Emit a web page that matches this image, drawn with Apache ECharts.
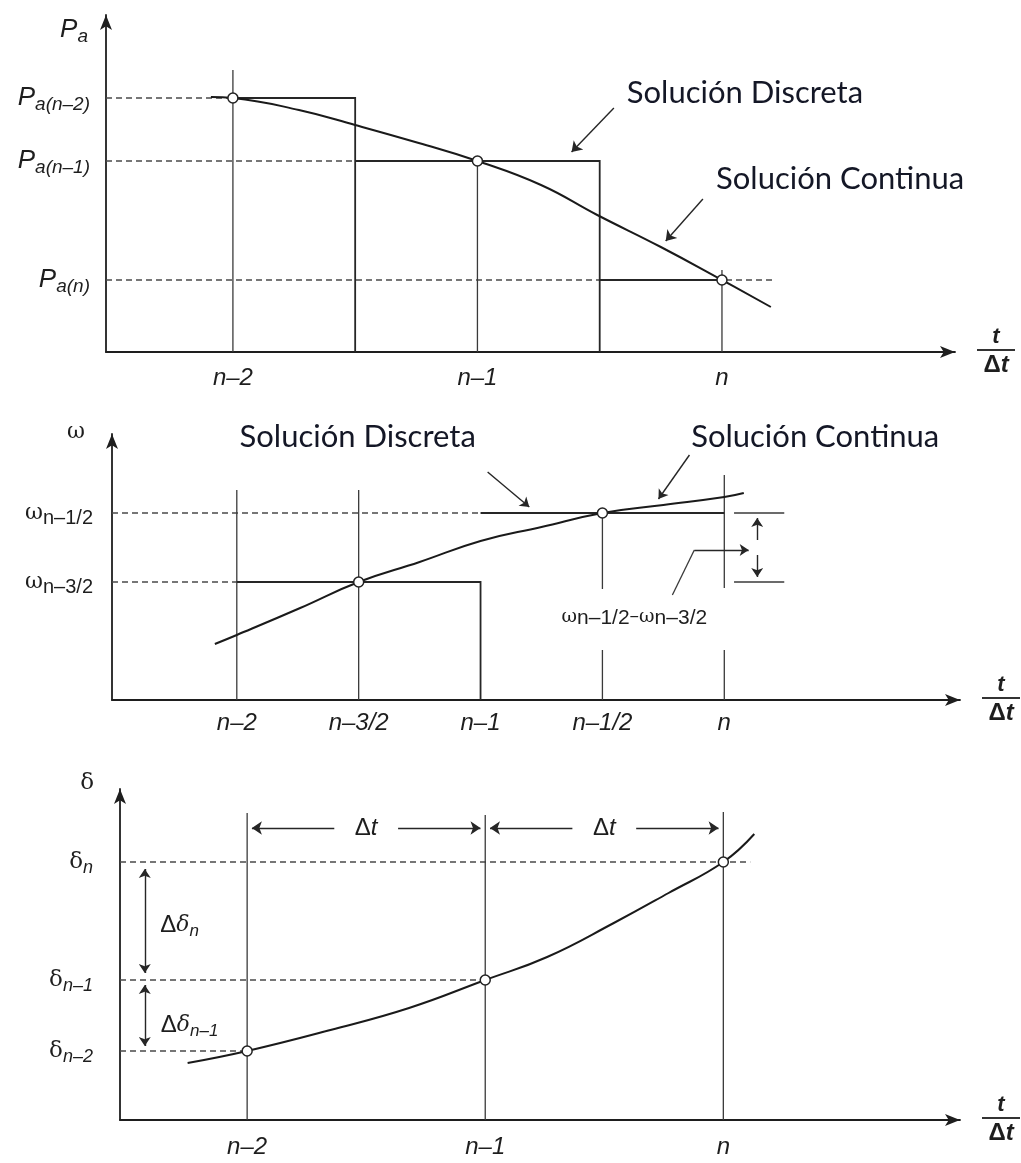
<!DOCTYPE html>
<html>
<head>
<meta charset="utf-8">
<script src="https://cdn.jsdelivr.net/npm/echarts@6/dist/echarts.min.js"></script>
<style>
html, body { margin: 0; padding: 0; background: #fff; }
#main { width: 1021px; height: 1163px; }
</style>
</head>
<body>
<div id="main"></div>
<script>
// time axis in steps, n = 0
// panel 1: accelerating power Pa
const paTicks = [-2, -1, 0];
const paTickLabels = ['n–2', 'n–1', 'n'];
const paLevels = [2.54, 1.91, 0.72];            // Pa(n-2), Pa(n-1), Pa(n)
const paLevelSubs = ['a(n–2)', 'a(n–1)', 'a(n)'];
const paCurveX = [-2.09, -2, -1.73, -1.5, -1.24, -1, -0.74, -0.51, -0.25, 0, 0.2];
const paCurveY = [2.55, 2.54, 2.42, 2.27, 2.09, 1.91, 1.67, 1.37, 1.05, 0.72, 0.45];

// panel 2: speed w
const wTicks = [-2, -1.5, -1, -0.5, 0];
const wTickLabels = ['n–2', 'n–3/2', 'n–1', 'n–1/2', 'n'];
const wLevels = [1.18, 1.87];                   // w(n-3/2), w(n-1/2)
const wLevelSubs = ['n–3/2', 'n–1/2'];
const wCurveX = [-2.09, -2, -1.74, -1.5, -1.25, -1, -0.75, -0.5, -0.25, 0, 0.08];
const wCurveY = [0.56, 0.65, 0.92, 1.18, 1.38, 1.59, 1.73, 1.87, 1.95, 2.03, 2.07];

// panel 3: rotor angle delta
const dTicks = [-2, -1, 0];
const dTickLabels = ['n–2', 'n–1', 'n'];
const dLevels = [0.69, 1.40, 2.58];             // d(n-2), d(n-1), d(n)
const dLevelSubs = ['n–2', 'n–1', 'n'];
const dCurveX = [-2.25, -2, -1.65, -1.32, -1, -0.74, -0.46, -0.23, 0, 0.13];
const dCurveY = [0.57, 0.69, 0.90, 1.12, 1.40, 1.63, 1.97, 2.27, 2.58, 2.86];

const sans = 'Liberation Sans';
const serif = 'DejaVu Serif';
const capFont = 'Lato';
const ink = '#1e1e1e';

const layout = [
  { grid: { left: 106, top: 15, width: 849, height: 337 }, x: [-2.519, 0.953], yMax: 3.37 },
  { grid: { left: 112, top: 434, width: 849, height: 266 }, x: [-2.512, 0.967], yMax: 2.66 },
  { grid: { left: 120, top: 789, width: 845, height: 331 }, x: [-2.534, 0.994], yMax: 3.31 }
];

const dashed = { color: '#4a4a4a', width: 1.3, type: [6, 4], opacity: 1 };
const thin = { color: '#3a3a3a', width: 1.3, opacity: 1 };
const step = { color: '#262626', width: 1.8, opacity: 1 };

function nearestIndex (arr, v) {
  let best = 0;
  arr.forEach((a, i) => { if (Math.abs(a - v) < Math.abs(arr[best] - v)) best = i; });
  return best;
}
function mid (a, b) { return (a + b) / 2; }

const fracRich = {
  t: { fontFamily: sans, fontStyle: 'italic', fontWeight: 'bold', fontSize: 22, lineHeight: 22, align: 'center', color: ink },
  bar: { width: 38, height: 2, lineHeight: 5, backgroundColor: '#333', align: 'center' },
  d: { fontFamily: sans, fontWeight: 'bold', fontSize: 24, lineHeight: 26, align: 'center', color: ink },
  ti: { fontFamily: sans, fontStyle: 'italic', fontWeight: 'bold', fontSize: 24, lineHeight: 26, align: 'center', color: ink }
};

function xAxisFor (i, ticks, labels, margin) {
  return {
    type: 'value', gridIndex: i, min: layout[i].x[0], max: layout[i].x[1],
    axisLine: { show: true, onZero: false, symbol: ['none', 'arrow'], symbolSize: [9, 15], lineStyle: { color: ink, width: 1.8 } },
    axisTick: { show: false },
    splitLine: { show: false },
    axisLabel: {
      customValues: ticks, margin: margin,
      formatter: v => labels[nearestIndex(ticks, v)],
      fontFamily: sans, fontStyle: 'italic', fontSize: 24, color: ink
    },
    name: '{t|t}\n{bar| }\n{d|Δ}{ti|t}',
    nameLocation: 'end', nameGap: 22,
    nameTextStyle: { align: 'left', verticalAlign: 'middle', rich: fracRich }
  };
}

function yAxisFor (i, levels, formatter, rich, margin, name, nameGap, namePad, nameRich) {
  return {
    type: 'value', gridIndex: i, min: 0, max: layout[i].yMax,
    axisLine: { show: true, onZero: false, symbol: ['none', 'arrow'], symbolSize: [9, 15], lineStyle: { color: ink, width: 1.8 } },
    axisTick: { show: false },
    splitLine: { show: false },
    axisLabel: { customValues: levels, margin: margin, formatter: formatter, rich: rich, color: ink },
    name: name, nameLocation: 'end', nameGap: nameGap,
    nameTextStyle: { align: 'right', verticalAlign: 'middle', padding: [0, namePad, 0, 0], rich: nameRich }
  };
}

function segs (i, list, style, z) {
  return {
    type: 'lines', coordinateSystem: 'cartesian2d', xAxisIndex: i, yAxisIndex: i,
    polyline: true, silent: true, z: z || 2,
    data: list.map(c => ({ coords: c })), lineStyle: style
  };
}
function arrows (i, list, ends, size) {
  return {
    type: 'lines', coordinateSystem: 'cartesian2d', xAxisIndex: i, yAxisIndex: i,
    silent: true, z: 3, symbol: ends, symbolSize: size || 10,
    data: list.map(c => ({ coords: c })), lineStyle: { color: '#262626', width: 1.4, opacity: 1 }
  };
}
function curve (i, xs, ys) {
  return {
    type: 'line', xAxisIndex: i, yAxisIndex: i, showSymbol: false, smooth: 0.45,
    silent: true, z: 4,
    data: xs.map((x, k) => [x, ys[k]]), lineStyle: { color: '#1a1a1a', width: 2 }
  };
}
function dots (i, pts) {
  return {
    type: 'scatter', xAxisIndex: i, yAxisIndex: i, symbol: 'circle', symbolSize: 10, silent: true, z: 6,
    data: pts, itemStyle: { color: '#fff', borderColor: '#222', borderWidth: 1.5, opacity: 1 }
  };
}
function notes (i, items) {
  return {
    type: 'scatter', xAxisIndex: i, yAxisIndex: i, symbolSize: 1, silent: true, z: 7,
    itemStyle: { color: 'rgba(0,0,0,0)', opacity: 1 },
    data: items.map(it => ({
      value: it.at,
      label: Object.assign({
        show: true, position: 'inside', align: 'center', verticalAlign: 'middle',
        opacity: 1, color: ink, formatter: it.text
      }, it.style)
    }))
  };
}

const captionStyle = { fontFamily: capFont, fontSize: 31, color: '#141726' };

// ---------- panel 1 ----------
const x1min = layout[0].x[0];
const pm1 = mid(paTicks[0], paTicks[1]);
const pm2 = mid(paTicks[1], paTicks[2]);
const p1Series = [
  segs(0, [
    [[x1min, paLevels[0]], [paTicks[0], paLevels[0]]],
    [[x1min, paLevels[1]], [pm1, paLevels[1]]],
    [[x1min, paLevels[2]], [0.22, paLevels[2]]]
  ], dashed, 1),
  segs(0, [
    [[paTicks[0], 2.82], [paTicks[0], 0]],
    [[paTicks[1], paLevels[1]], [paTicks[1], 0]],
    [[paTicks[2], 0.82], [paTicks[2], 0]]
  ], thin),
  segs(0, [
    [[paTicks[0], paLevels[0]], [pm1, paLevels[0]], [pm1, 0]],
    [[pm1, paLevels[1]], [pm2, paLevels[1]], [pm2, 0]],
    [[pm2, paLevels[2]], [paTicks[2], paLevels[2]]]
  ], step),
  curve(0, paCurveX, paCurveY),
  dots(0, paTicks.map((t, k) => [t, paLevels[k]])),
  arrows(0, [
    [[-0.442, 2.44], [-0.615, 2.0]],
    [[-0.078, 1.53], [-0.23, 1.11]]
  ], ['none', 'arrow']),
  notes(0, [
    { at: [0.094, 2.59], text: 'Solución Discreta', style: captionStyle },
    { at: [0.483, 1.73], text: 'Solución Continua', style: captionStyle }
  ])
];

// ---------- panel 2 ----------
const x2min = layout[1].x[0];
const p2Series = [
  segs(1, [
    [[x2min, wLevels[1]], [wTicks[2], wLevels[1]]],
    [[x2min, wLevels[0]], [wTicks[0], wLevels[0]]]
  ], dashed, 1),
  segs(1, [
    [[wTicks[0], 2.10], [wTicks[0], 0]],
    [[wTicks[1], 2.10], [wTicks[1], 0]],
    [[wTicks[3], wLevels[1]], [wTicks[3], 1.11]],
    [[wTicks[3], 0.50], [wTicks[3], 0]],
    [[wTicks[4], 2.25], [wTicks[4], 1.12]],
    [[wTicks[4], 0.50], [wTicks[4], 0]],
    [[0.04, wLevels[1]], [0.246, wLevels[1]]],
    [[0.04, wLevels[0]], [0.246, wLevels[0]]],
    [[-0.213, 1.05], [-0.123, 1.50]]
  ], thin),
  segs(1, [
    [[wTicks[0], wLevels[0]], [wTicks[2], wLevels[0]], [wTicks[2], 0]],
    [[wTicks[2], wLevels[1]], [wTicks[4], wLevels[1]]]
  ], step),
  curve(1, wCurveX, wCurveY),
  dots(1, [[wTicks[1], wLevels[0]], [wTicks[3], wLevels[1]]]),
  arrows(1, [
    [[-0.971, 2.28], [-0.80, 1.93]],
    [[-0.143, 2.45], [-0.27, 2.01]],
    [[0.135, 1.60], [0.135, 1.82]],
    [[0.135, 1.45], [0.135, 1.23]],
    [[-0.123, 1.50], [0.10, 1.50]]
  ], ['none', 'arrow'], 9),
  notes(1, [
    { at: [-1.504, 2.63], text: 'Solución Discreta', style: captionStyle },
    { at: [0.373, 2.63], text: 'Solución Continua', style: captionStyle },
    {
      at: [-0.369, 0.83],
      text: '{w|ω}{s|n–1/2}{w|–ω}{s|n–3/2}',
      style: {
        rich: {
          w: { fontFamily: serif, fontSize: 19, lineHeight: 24, color: ink },
          s: { fontFamily: sans, fontSize: 21, lineHeight: 18, verticalAlign: 'bottom', color: ink }
        }
      }
    }
  ])
];

// ---------- panel 3 ----------
const x3min = layout[2].x[0];
const dtY = 2.92;
const gap = 0.134;
const noteRich = {
  D: { fontFamily: sans, fontSize: 24, lineHeight: 30, color: ink },
  t: { fontFamily: sans, fontStyle: 'italic', fontSize: 24, lineHeight: 30, color: ink },
  d: { fontFamily: serif, fontStyle: 'italic', fontSize: 22, lineHeight: 30, color: ink },
  s: { fontFamily: sans, fontStyle: 'italic', fontSize: 17, lineHeight: 18, verticalAlign: 'bottom', color: ink }
};
const p3Series = [
  segs(2, [
    [[x3min, dLevels[2]], [0.113, dLevels[2]]],
    [[x3min, dLevels[1]], [dTicks[1], dLevels[1]]],
    [[x3min, dLevels[0]], [dTicks[0], dLevels[0]]]
  ], dashed, 1),
  segs(2, [
    [[dTicks[0], 3.07], [dTicks[0], 0]],
    [[dTicks[1], 3.05], [dTicks[1], 0]],
    [[dTicks[2], 3.08], [dTicks[2], 0]]
  ], thin),
  curve(2, dCurveX, dCurveY),
  dots(2, dTicks.map((t, k) => [t, dLevels[k]])),
  arrows(2, [
    [[mid(dTicks[0], dTicks[1]) - gap, dtY], [dTicks[0] + 0.02, dtY]],
    [[mid(dTicks[0], dTicks[1]) + gap, dtY], [dTicks[1] - 0.02, dtY]],
    [[mid(dTicks[1], dTicks[2]) - gap, dtY], [dTicks[1] + 0.02, dtY]],
    [[mid(dTicks[1], dTicks[2]) + gap, dtY], [dTicks[2] - 0.02, dtY]]
  ], ['none', 'arrow'], 10),
  arrows(2, [
    [[-2.43, dLevels[2] - 0.07], [-2.43, dLevels[1] + 0.07]],
    [[-2.43, dLevels[1] - 0.05], [-2.43, dLevels[0] + 0.05]]
  ], ['arrow', 'arrow'], 9),
  notes(2, [
    { at: [mid(dTicks[0], dTicks[1]), dtY], text: '{D|Δ}{t|t}' },
    { at: [mid(dTicks[1], dTicks[2]), dtY], text: '{D|Δ}{t|t}' },
    { at: [-2.284, 1.95], text: '{D|Δ}{d|δ}{s|n}' },
    { at: [-2.242, 0.95], text: '{D|Δ}{d|δ}{s|n–1}' }
  ].map(n => Object.assign(n, { style: { rich: noteRich } })))
];

const paRich = {
  p: { fontFamily: sans, fontStyle: 'italic', fontSize: 26, lineHeight: 33, color: ink },
  s: { fontFamily: sans, fontStyle: 'italic', fontSize: 19, lineHeight: 20, verticalAlign: 'bottom', color: ink }
};
const wRich = {
  w: { fontFamily: serif, fontSize: 22, lineHeight: 30, color: ink },
  s: { fontFamily: sans, fontSize: 20, lineHeight: 22, verticalAlign: 'bottom', color: ink }
};
const dRich = {
  d: { fontFamily: serif, fontSize: 23, lineHeight: 30, color: ink },
  s: { fontFamily: sans, fontStyle: 'italic', fontSize: 18, lineHeight: 18, verticalAlign: 'bottom', color: ink }
};

const option = {
  backgroundColor: '#fff',
  animation: false,
  grid: layout.map(l => l.grid),
  xAxis: [
    xAxisFor(0, paTicks, paTickLabels, 14),
    xAxisFor(1, wTicks, wTickLabels, 11),
    xAxisFor(2, dTicks, dTickLabels, 15)
  ],
  yAxis: [
    yAxisFor(0, paLevels, v => '{p|P}{s|' + paLevelSubs[nearestIndex(paLevels, v)] + '}', paRich, 16,
      '{p|P}{s|a}', -15, 18, paRich),
    yAxisFor(1, wLevels, v => '{w|ω}{s|' + wLevelSubs[nearestIndex(wLevels, v)] + '}', wRich, 19,
      '{w|ω}', 2, 27, wRich),
    yAxisFor(2, dLevels, v => '{d|δ}{s|' + dLevelSubs[nearestIndex(dLevels, v)] + '}', dRich, 27,
      '{d|δ}', 6, 26, dRich)
  ],
  series: [].concat(p1Series, p2Series, p3Series)
};

const chart = echarts.init(document.getElementById('main'));
chart.setOption(option);
</script>
</body>
</html>
